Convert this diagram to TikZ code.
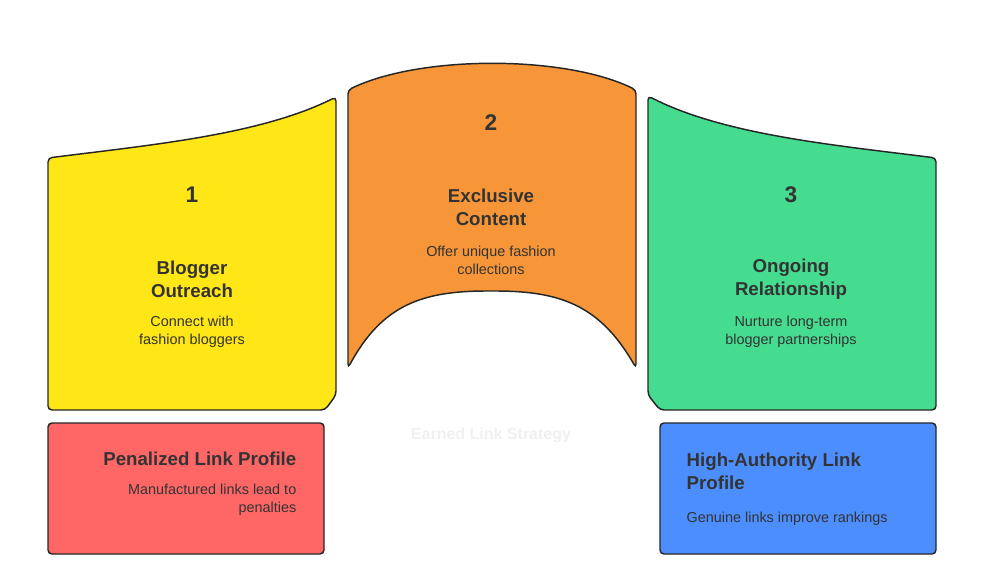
\documentclass[tikz,border=0pt]{standalone}
\usepackage{fontspec}
\setmainfont{Liberation Sans}
\begin{document}
\begin{tikzpicture}[x=0.75pt,y=-0.75pt,
  sh/.style={draw=black!85,line width=1.1pt,rounded corners=3pt},
  num/.style={font=\bfseries\fontsize{17}{20}\selectfont,text=black!80},
  ttl/.style={font=\bfseries\fontsize{14}{17.5}\selectfont,text=black!80,align=center},
  dsc/.style={font=\fontsize{10.8}{13.5}\selectfont,text=black!80,align=center}]
\useasboundingbox (0,0) rectangle (984,580);
\definecolor{cy}{HTML}{FFE616}\definecolor{co}{HTML}{F79638}
\definecolor{cg}{HTML}{45DC8F}\definecolor{cr}{HTML}{FF6666}\definecolor{cb}{HTML}{4D8EFF}
\draw[sh,fill=cy] (48,158) .. controls (150,145) and (260,135) .. (336,97) -- (336,395) -- (325,410) -- (48,410) -- cycle;
\draw[sh,fill=co] (348,90) .. controls (420,55) and (565,55) .. (636,90) -- (636,368) .. controls (600,305) and (560,291) .. (491,291) .. controls (422,291) and (382,305) .. (348,368) -- cycle;
\draw[sh,fill=cg] (648,96) .. controls (724,135) and (834,145) .. (936,158) -- (936,410) -- (660,410) -- (648,395) -- cycle;
\draw[sh,fill=cr] (48,423) rectangle (324,554);
\draw[sh,fill=cb] (660,423) rectangle (936,554);
\node[num] (n1) at (192,195) {1};
\node[ttl] (t1) at (192,279) {Blogger\\Outreach};
\node[dsc] (d1) at (192,332) {Connect with\\fashion bloggers};
\node[num] (n2) at (491,123) {2};
\node[ttl] (t2) at (491,207) {Exclusive\\Content};
\node[dsc] (d2) at (491,260) {Offer unique fashion\\collections};
\node[num] (n3) at (791,195) {3};
\node[ttl] (t3) at (791,279) {Ongoing\\Relationship};
\node[dsc] (d3) at (791,332) {Nurture long-term\\blogger partnerships};
\node[ttl,anchor=east] (tr) at (301,459) {Penalized Link Profile};
\node[dsc,anchor=east,align=right] (dr) at (301,500) {Manufactured links lead to\\penalties};
\node[ttl,anchor=west,align=left] (tb) at (682,471) {High-Authority Link\\Profile};
\node[dsc,anchor=west,align=left] (db) at (682,519) {Genuine links improve rankings};
\node[font=\bfseries\fontsize{12}{14}\selectfont,text=black!6] (es) at (491,435) {Earned Link Strategy};
\end{tikzpicture}
\end{document}
